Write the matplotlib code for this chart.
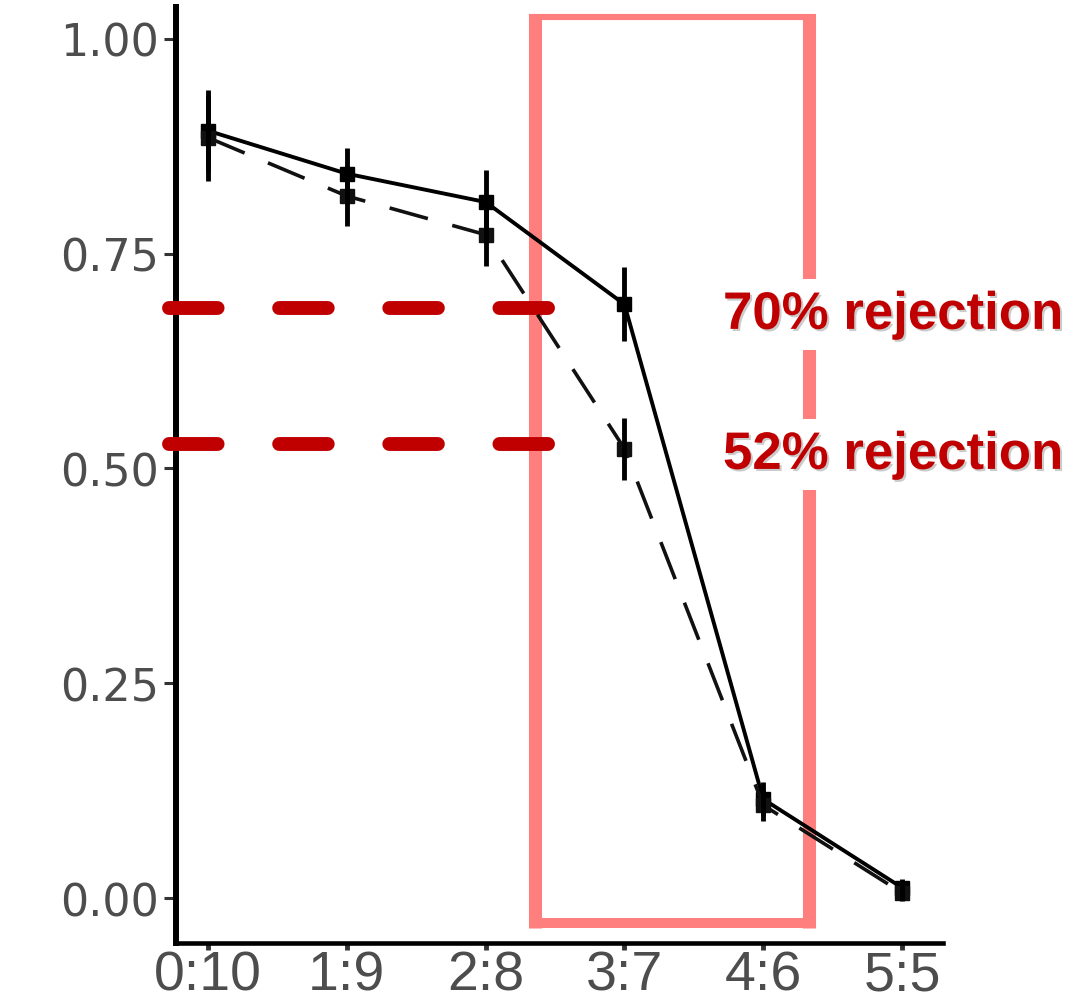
import matplotlib
matplotlib.use("Agg")
import matplotlib.pyplot as plt
import matplotlib.patheffects as pe

# ratio categories on the x axis
ratios = ["0:10", "1:9", "2:8", "3:7", "4:6", "5:5"]

# solid series (mean and error)
solid_mean = [0.893, 0.843, 0.810, 0.691, 0.115, 0.012]
solid_err = [0.047, 0.030, 0.037, 0.043, 0.020, 0.010]

# dashed series (mean and error)
dashed_mean = [0.885, 0.817, 0.772, 0.523, 0.108, 0.006]
dashed_err = [0.050, 0.035, 0.037, 0.036, 0.018, 0.010]

# y ticks
y_ticks = [0.00, 0.25, 0.50, 0.75, 1.00]
y_ticklabels = ["0.00", "0.25", "0.50", "0.75", "1.00"]

# highlighted ratio window and rejection levels
box_x = (2.359, 4.330)
box_y = (-0.029, 1.0256)
rejection_levels = [0.687, 0.528]
rejection_labels = ["70% rejection", "52% rejection"]
rejection_baselines = [0.6624, 0.4994]

RED = "#C00000"
PINK = "#FF7F7F"
GREY = "#4D4D4D"

fig = plt.figure(figsize=(10.76, 10.03), dpi=100)
ax = fig.add_axes([0.1636, 0.0588, 0.7128, 0.9332])

x = list(range(len(ratios)))

# data lines
ax.plot(x, solid_mean, color="black", lw=2.8, marker="s", ms=10, zorder=4)
ax.plot(x, dashed_mean, color="#111111", lw=2.6, linestyle=(0, (11, 7)),
        marker="s", ms=10, zorder=4)
ax.errorbar(x, solid_mean, yerr=solid_err, fmt="none", ecolor="black",
            elinewidth=3.5, capsize=0, zorder=4)
ax.errorbar(x, dashed_mean, yerr=dashed_err, fmt="none", ecolor="black",
            elinewidth=3.5, capsize=0, zorder=4)

# pink highlight box (drawn as four strokes, thicker on the sides)
x0, x1 = box_x
y0, y1 = box_y
dx = 0.047
dy_top = 0.0035
dy_bot = 0.006
ax.plot([x0, x0], [y0 - dy_bot, y1 + dy_top], color=PINK, lw=9.4,
        solid_capstyle="butt", clip_on=False, zorder=2)
ax.plot([x1, x1], [y0 - dy_bot, y1 + dy_top], color=PINK, lw=9.4,
        solid_capstyle="butt", clip_on=False, zorder=2)
ax.plot([x0 - dx, x1 + dx], [y1, y1], color=PINK, lw=4.4,
        solid_capstyle="butt", clip_on=False, zorder=2)
ax.plot([x0 - dx, x1 + dx], [y0, y0], color=PINK, lw=7.2,
        solid_capstyle="butt", clip_on=False, zorder=2)

# red dashed rejection lines
for lvl in rejection_levels:
    ax.plot([-0.2846, 2.471], [lvl, lvl], color=RED, lw=10,
            linestyle=(0, (3.5, 4.43)), dash_capstyle="round",
            clip_on=False, zorder=3)

shadow = [pe.SimplePatchShadow(offset=(1.5, -1.5), shadow_rgbFace="#999999", alpha=0.5),
          pe.Normal()]
for lab, base in zip(rejection_labels, rejection_baselines):
    ax.text(3.71, base, lab, color=RED, fontsize=38, fontweight="bold",
            family="Liberation Sans", ha="left", va="baseline",
            bbox=dict(boxstyle="square,pad=0.2", fc="white", ec="none"),
            path_effects=shadow, zorder=5)

# axes styling
ax.set_xlim(-0.2305, 5.295)
ax.set_ylim(-0.0524, 1.037)
ax.set_xticks(x)
ax.set_xticklabels(ratios, fontsize=40, family="Liberation Sans", color=GREY)
ax.set_yticks(y_ticks)
ax.set_yticklabels(y_ticklabels, fontsize=32, family="DejaVu Sans", color=GREY)
ax.tick_params(axis="y", length=9, width=2.2, color="#333333", pad=3)
ax.tick_params(axis="x", length=5, width=3.5, color="#333333", pad=0)

for side in ["top", "right"]:
    ax.spines[side].set_visible(False)
ax.spines["left"].set_linewidth(4.3)
ax.spines["bottom"].set_linewidth(3.3)

fig.savefig("out.png", dpi=100)
